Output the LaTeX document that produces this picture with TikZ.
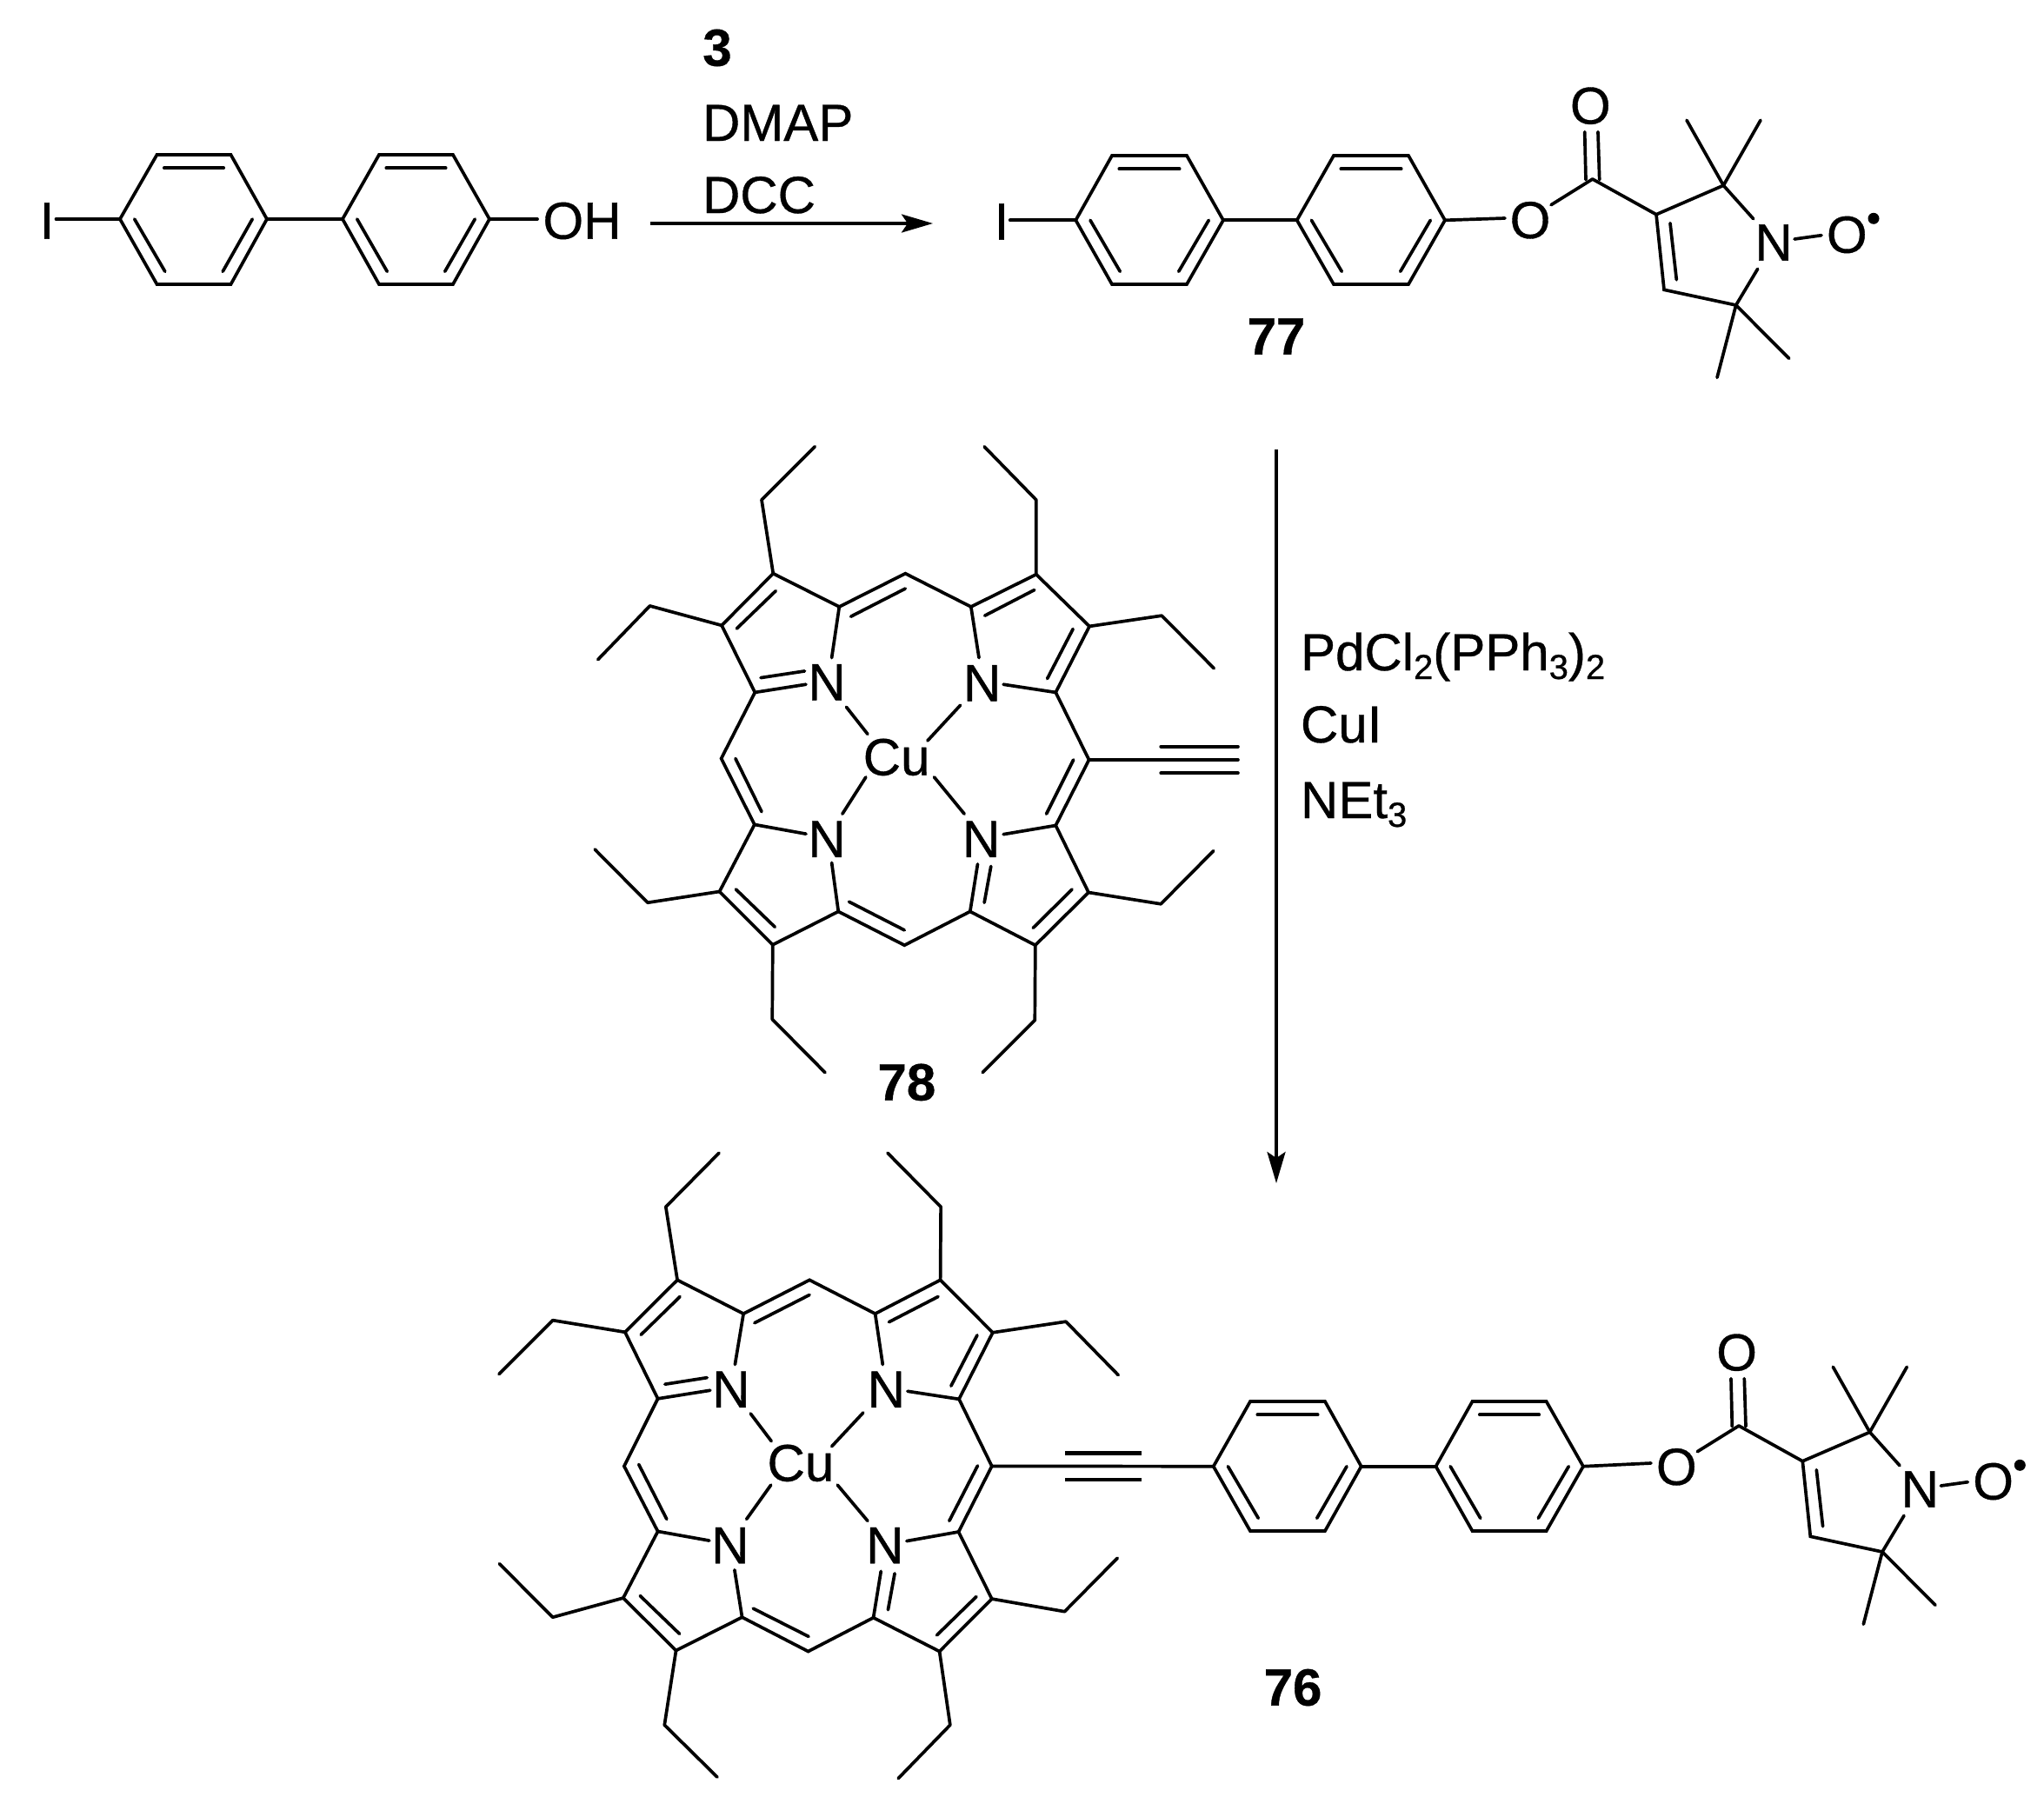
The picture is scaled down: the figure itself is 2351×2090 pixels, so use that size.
\documentclass[tikz,border=0pt]{standalone}
\usepackage{fontspec}
\setmainfont{Liberation Sans}[FakeBold=0.6]
\usetikzlibrary{arrows.meta}
\newcommand{\chsub}[1]{\raisebox{-10pt}{\fontsize{40}{40}\selectfont #1}}
\tikzset{
  bond/.style={line width=3.7pt,line cap=round,line join=round},
  ringline/.style={line width=3.7pt,line join=miter},
  rxn/.style={line width=3.6pt,-{Stealth[length=36pt,width=21pt,inset=7pt]}},
  atom/.style={inner sep=0pt,outer sep=0pt,font=\fontsize{60}{60}\selectfont},
  cmpd/.style={inner sep=0pt,outer sep=0pt,font=\fontsize{60}{60}\selectfont\bfseries},
  reagent/.style={inner sep=0pt,outer sep=0pt,anchor=base west,font=\fontsize{60}{60}\selectfont}
}
% name, L, TL, TR, R, top, mid, bot
\newcommand{\phring}[8]{
  \coordinate (#1l) at (#2,#7);
  \coordinate (#1tl) at (#3,#6);
  \coordinate (#1tr) at (#4,#6);
  \coordinate (#1r) at (#5,#7);
  \coordinate (#1br) at (#4,#8);
  \coordinate (#1bl) at (#3,#8);
  \coordinate (#1ia) at (#3+8.3,#6+15.3);
  \coordinate (#1ib) at (#4-8.3,#6+15.3);
  \coordinate (#1ic) at (#2+16.7,#7);
  \coordinate (#1id) at (#3+9.3,#8-14.7);
  \coordinate (#1ie) at (#5-16.7,#7);
  \coordinate (#1if) at (#4-9.3,#8-14.7);
  \draw[ringline] (#1l)--(#1tl)--(#1tr)--(#1r)--(#1br)--(#1bl)--cycle;
  \draw[bond] (#1ia)--(#1ib);
  \draw[bond] (#1ic)--(#1id);
  \draw[bond] (#1ie)--(#1if);
}
\newcommand{\nitroxide}[1]{
  \coordinate (#1c) at (1831.7,206);
  \coordinate (#1c3) at (1905,246.7);
  \coordinate (#1c2) at (1982.3,213.3);
  \coordinate (#1c4) at (1914,333.3);
  \coordinate (#1c5) at (1996.7,351);
  \coordinate (#1m1) at (1940,138.3);
  \coordinate (#1m2) at (2025,138.3);
  \coordinate (#1m3) at (2057.7,412.3);
  \coordinate (#1m4) at (1975,434.3);
  \coordinate (#1oa) at (1784,235.7);
  \coordinate (#1dba) at (1822.7,151.7);
  \coordinate (#1dbb) at (1824,206.7);
  \coordinate (#1dbc) at (1838,151.7);
  \coordinate (#1dbd) at (1839.7,206.7);
  \coordinate (#1na) at (2016.7,251.7);
  \coordinate (#1nb) at (2021.7,309.3);
  \coordinate (#1noa) at (2064,275);
  \coordinate (#1nob) at (2095,270.7);
  \coordinate (#1ia) at (1921,256.7);
  \coordinate (#1ib) at (1928.3,321.7);
  \node[atom] (#1O1) at (1760,253.3) {O};
  \node[atom] (#1O2) at (1829.3,121.7) {O};
  \node[atom] (#1N) at (2040,279) {N};
  \node[atom] (#1O3) at (2124.3,270) {O};
  \fill (2155,251.3) circle (6.5pt);
  \draw[bond] (#1oa)--(#1c)--(#1c3)--(#1c2)--(#1na);
  \draw[ringline] (#1c3)--(#1c4)--(#1c5);
  \draw[bond] (#1c5)--(#1nb);
  \draw[bond] (#1dba)--(#1dbb);
  \draw[bond] (#1dbc)--(#1dbd);
  \draw[bond] (#1m1)--(#1c2)--(#1m2);
  \draw[bond] (#1m3)--(#1c5)--(#1m4);
  \draw[bond] (#1noa)--(#1nob);
  \draw[bond] (#1ia)--(#1ib);
}
\newcommand{\porph}[1]{
  \draw[ringline] (#1r1)--(#1r2)--(#1r3)--(#1r4)--(#1r5)--(#1r6)--(#1r7)--(#1r8)--(#1r9)--(#1r10)--(#1r11)--(#1r12)--(#1r13)--(#1r14)--(#1r15)--(#1r16)--(#1r17)--(#1r18)--(#1r19)--(#1r20)--cycle;
  \foreach \i/\j in {1/1,20/2,5/3,6/4,10/5,11/6,15/7,16/8}
    \draw[bond] (#1r\i)--(#1e\j)--(#1t\j);
  \foreach \i/\j in {2/1,4/2,19/3,7/4,17/5,9/6,14/7,12/8}
    \draw[bond] (#1r\i)--(#1s\j);
  \foreach \i in {1,...,4}
    \draw[bond] (#1cu\i a)--(#1cu\i b);
  \foreach \i in {1,...,11}
    \draw[bond] (#1i\i a)--(#1i\i b);
}
\begin{document}
\begin{tikzpicture}[x=1pt,y=-1pt]
\path[use as bounding box,fill=white] (0,0) rectangle (2351,2090);

% starting iodobiphenylol
\phring{pa}{138}{180.5}{265.5}{307}{178}{252}{327}
\phring{pb}{394}{436}{521}{563}{178}{252}{327}
\node[atom] (I1) at (54,254) {I};
\node[atom] (OH) at (669.5,254) {OH};
\coordinate (I1b) at (64.5,252);
\coordinate (OHb) at (618,252);
\draw[bond] (I1b)--(pal);
\draw[bond] (par)--(pbl);
\draw[bond] (pbr)--(OHb);

% first reaction arrow
\coordinate (ar1a) at (748,257);
\coordinate (ar1b) at (1073,257);
\draw[rxn] (ar1a)--(ar1b);
\node[cmpd] (r3) at (825,55) {3};
\node[reagent] (rDMAP) at (808,162) {DMAP};
\node[reagent] (rDCC) at (808,245) {DCC};

% compound 77
\phring{qa}{1237.3}{1279}{1365}{1407}{179}{253.3}{327}
\phring{qb}{1491.7}{1534}{1620}{1662}{179}{253.3}{327}
\node[atom] (I2) at (1152,255) {I};
\coordinate (I2b) at (1161.7,253.3);
\coordinate (qest) at (1731,251);
\draw[bond] (I2b)--(qal);
\draw[bond] (qar)--(qbl);
\draw[bond] (qbr)--(qest);
\nitroxide{nt}
\node[cmpd] (c77) at (1468,387) {77};

% second reaction arrow
\coordinate (ar2a) at (1468,517);
\coordinate (ar2b) at (1468,1361);
\draw[rxn] (ar2a)--(ar2b);
\node[reagent] (rPd) at (1496,771) {PdCl\chsub{2}(PPh\chsub{3})\chsub{2}};
\node[reagent] (rCu) at (1496,854) {CuI};
\node[reagent] (rNEt) at (1496,941) {NEt\chsub{3}};

% compound 78
\begin{scope}[shift={(650,500)},x=0.5102pt,y=-0.5102pt]
\foreach \n/\x/\y in {r1/469/313,r2/618/388,r3/767/313,r4/915/388,r5/1062/315,r6/1182/432,r7/1106/581,r8/1181/733,r9/1106/881,r10/1180/1032,r11/1060/1151,r12/913/1075,r13/765/1151,r14/616/1075,r15/468/1150,r16/348/1030,r17/427/879,r18/352/730,r19/428/581,r20/353/430,
 e1/443/147,t1/563/27,e2/191/386,t2/74/507,e3/1062/147,t3/945/27,e4/1345/408,t4/1463/527,e5/1343/1058,t5/1462/938,e6/1059/1320,t6/941/1438,e7/467/1318,t7/586/1438,e8/186/1055,t8/67/935,
 s1/601/503,s2/933/503,s3/543/563,s4/988/563,s5/543/900,s6/988/901,s7/601/965,s8/930/968,
 cu1a/634/614,cu1b/682/675,cu2a/891/610,cu2b/817/690,cu3a/678/772,cu3b/625/855,cu4a/832/772,cu4b/900/855,
 i1a/644/410,i1b/767/347,i2a/946/408,i2b/1058/350,i3a/1145/438,i3b/1087/550,i4a/475/352,i4b/387/437,i5a/384/730,i5b/443/850,i6a/1146/733,i6b/1085/855,i7a/1143/1025,i7b/1055/1112,i8a/385/1025,i8b/473/1110,i9a/640/1053,i9b/765/1117,i10a/441/548,i10b/540/533,i11a/945/1055,i11b/960/973,
 ya/1517/733,yb/1343/703,yc/1517/703,yd/1343/763,ye/1517/763}
  \coordinate (a\n) at (\x,\y);
\node[atom] (aN1) at (590,558) {N};
\node[atom] (aN2) at (940,560) {N};
\node[atom] (aN3) at (590,912) {N};
\node[atom] (aN4) at (938,912) {N};
\node[atom] (aCu) at (747,727) {Cu};
\node[cmpd] (c78) at (770,1460) {78};
\end{scope}
\porph{a}
\draw[bond] (ar8)--(aya);
\draw[bond] (ayb)--(ayc);
\draw[bond] (ayd)--(aye);

% compound 76
\begin{scope}[shift={(550,1300)},x=0.5102pt,y=-0.5038pt]
\foreach \n/\x/\y in {r1/449/342,r2/598/419,r3/747/342,r4/895/419,r5/1042/342,r6/1160/462,r7/1084/614,r8/1158/767,r9/1083/917,r10/1158/1070,r11/1040/1190,r12/891/1113,r13/744/1190,r14/595/1112,r15/446/1188,r16/327/1068,r17/405/916,r18/329/767,r19/405/613,r20/331/461,
 e1/423/175,t1/543/52,e2/168/434,t2/47/557,e3/1043/175,t3/923/52,e4/1325/437,t4/1443/559,e5/1322/1099,t5/1441/977,e6/1064/1358,t6/947/1480,e7/420/1358,t7/539/1477,e8/168/1112,t8/48/990,
 s1/579/535,s2/912/535,s3/523/594,s4/968/596,s5/521/937,s6/966/938,s7/578/1004,s8/908/1007,
 cu1a/614/647,cu1b/661/710,cu2a/868/645,cu2b/797/722,cu3a/660/810,cu3b/605/888,cu4a/810/810,cu4b/878/892,
 i1a/623/440,i1b/747/376,i2a/926/438,i2b/1037/380,i3a/1125/468,i3b/1066/584,i4a/455/380,i4b/367/467,i5a/362/763,i5b/425/888,i6a/1126/766,i6b/1062/892,i7a/1123/1065,i7b/1034/1153,i8a/365/1063,i8b/454/1150,i9a/620/1092,i9b/745/1156,i10a/421/580,i10b/516/565,i11a/924/1095,i11b/939/1012}
  \coordinate (b\n) at (\x,\y);
\node[atom] (bN1) at (570,592) {N};
\node[atom] (bN2) at (920,592) {N};
\node[atom] (bN3) at (568,948) {N};
\node[atom] (bN4) at (917,948) {N};
\node[atom] (bCu) at (727,760) {Cu};
\end{scope}
\porph{b}
\phring{ua}{1395.7}{1438}{1524}{1565.7}{1612}{1686.7}{1761}
\phring{ub}{1651.5}{1693.5}{1778.6}{1821}{1612}{1686.7}{1761}
\coordinate (yb) at (1225,1671.3);
\coordinate (yc) at (1313,1671.3);
\coordinate (yd) at (1225,1702);
\coordinate (ye) at (1313,1702);
\coordinate (uest) at (1899,1683);
\draw[bond] (br8)--(ual);
\draw[line width=4.4pt] (yb)--(yc);
\draw[line width=4.4pt] (yd)--(ye);
\draw[bond] (uar)--(ubl);
\draw[bond] (ubr)--(uest);
\begin{scope}[shift={(168.3,1434)}]
\nitroxide{nb}
\end{scope}
\node[cmpd] (c76) at (1487,1941) {76};
\end{tikzpicture}
\end{document}
